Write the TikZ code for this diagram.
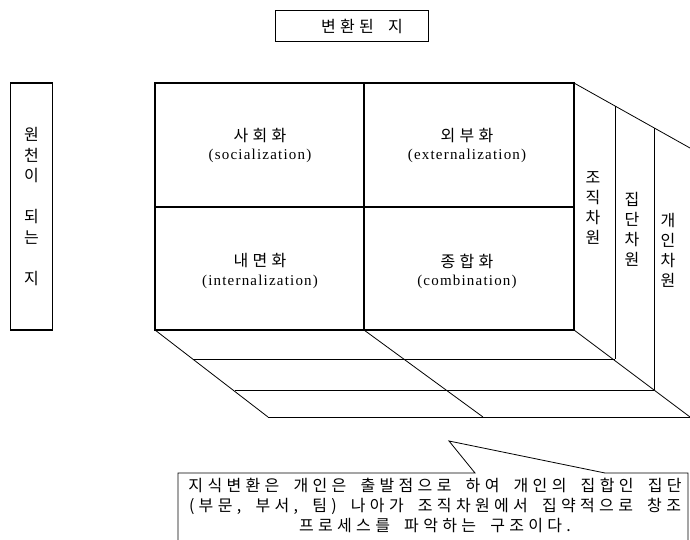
\documentclass[tikz,border=0pt]{standalone}
\usepackage{fontspec}
\setmainfont{Liberation Serif}[LetterSpace=8]
\newfontfamily\kr{Noto Sans CJK KR}[LetterSpace=27,WordSpace=1.8]
\begin{document}
\begin{tikzpicture}[x=1pt,y=-1pt,
  thickline/.style={line width=1.6pt},
  thinline/.style={line width=0.8pt},
  krtext/.style={font=\kr\fontsize{16}{20}\selectfont, align=center, inner sep=0pt},
  lattext/.style={font=\fontsize{15}{16}\selectfont, inner sep=0pt},
  boxnode/.style={draw, line width=1.6pt, inner sep=0pt},
]
\useasboundingbox (0,0) rectangle (690,540);

% title box
\node[boxnode, minimum width=153pt, minimum height=31pt] (title) at (352,26) {};
\node[krtext] (titletext) at (362,26) {변환된 지};

% left source box
\node[boxnode, minimum width=42pt, minimum height=247pt] (src) at (31.5,206.5) {};
\node[krtext, font=\kr\fontsize{16}{20.5}\selectfont] (srctext) at (src) {원\\천\\이\\\mbox{}\\되\\는\\\mbox{}\\지};

% grid
\coordinate (TL) at (155,83);
\coordinate (TR) at (574,83);
\coordinate (BL) at (155,330);
\coordinate (BR) at (574,330);
\coordinate (TM) at (364,83);
\coordinate (BM) at (364,330);
\coordinate (ML) at (155,207);
\coordinate (MR) at (574,207);
\draw[thickline] (TL) rectangle (BR);
\draw[thickline] (TM) -- (BM);
\draw[thickline] (ML) -- (MR);

\node[krtext] (soc) at (260,136) {사회화};
\node[lattext] (socE) at (260,156) {(socialization)};
\node[krtext] (ext) at (467,136) {외부화};
\node[lattext] (extE) at (467,156) {(externalization)};
\node[krtext] (inte) at (260,261) {내면화};
\node[lattext] (intE) at (260,282) {(internalization)};
\node[krtext] (com) at (467,261) {종합화};
\node[lattext] (comE) at (467,282) {(combination)};

% perspective
\coordinate (RT) at (690,148);
\coordinate (V1t) at (615,106);
\coordinate (V1b) at (615,359);
\coordinate (V2t) at (654,128);
\coordinate (V2b) at (654,390);
\coordinate (RB) at (690,417);
\coordinate (LB) at (268,417);
\coordinate (MB) at (483,417);
\coordinate (H1l) at (193,359);
\coordinate (H2l) at (235,390);
\draw[thinline] (TR) -- (RT);
\draw[thinline] (V1t) -- (V1b);
\draw[thinline] (V2t) -- (V2b);
\draw[thinline] (BR) -- (RB);
\draw[thinline] (BL) -- (LB);
\draw[thinline] (BM) -- (MB);
\draw[thinline] (H1l) -- (V1b);
\draw[thinline] (H2l) -- (V2b);
\draw[thinline] (LB) -- (RB);

\node[krtext] (org) at (593,208) {조\\직\\차\\원};
\node[krtext] (grp) at (632,229) {집\\단\\차\\원};
\node[krtext] (ind) at (668,250) {개\\인\\차\\원};

% callout
\coordinate (cA) at (178,541);
\coordinate (cB) at (178,473);
\coordinate (cC) at (475,473);
\coordinate (cD) at (449,441);
\coordinate (cE) at (605,473);
\coordinate (cF) at (688,473);
\coordinate (cG) at (688,541);
\draw[thinline] (cA) -- (cB) -- (cC) -- (cD) -- (cE) -- (cF) -- (cG);
\node[krtext] (note) at (435,505) {지식변환은 개인은 출발점으로 하여 개인의 집합인 집단\\(부문, 부서, 팀) 나아가 조직차원에서 집약적으로 창조\\프로세스를 파악하는 구조이다.};
\end{tikzpicture}
\end{document}
